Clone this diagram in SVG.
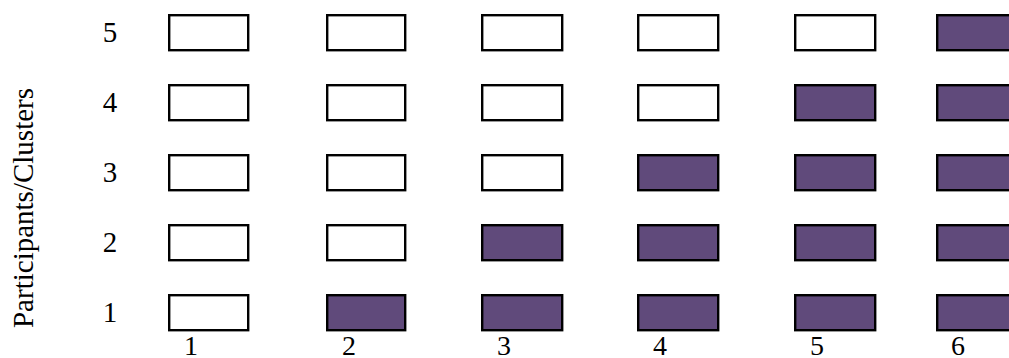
<svg xmlns="http://www.w3.org/2000/svg" width="1009" height="358" viewBox="0 0 1009 358">
<style>
text{font-family:"Liberation Serif","Times New Roman",serif;font-size:29px;fill:#000}
.lbl{text-anchor:middle}
.col{font-size:28px}
rect.c{stroke:#000;stroke-width:2.4;fill:#fff}
rect.f{fill:#604a7b}
</style>
<rect width="1009" height="358" fill="#fff"/>
<text class="lbl" transform="translate(33,208) rotate(-90)">Participants/Clusters</text>
<g id="row-labels">
<text class="lbl" x="110" y="42">5</text>
<text class="lbl" x="110" y="112">4</text>
<text class="lbl" x="110" y="182">3</text>
<text class="lbl" x="110" y="252">2</text>
<text class="lbl" x="110" y="322">1</text>
</g>
<g id="col-labels">
<text class="lbl col" x="191" y="355">1</text>
<text class="lbl col" x="349" y="355">2</text>
<text class="lbl col" x="504" y="355">3</text>
<text class="lbl col" x="660" y="355">4</text>
<text class="lbl col" x="817" y="355">5</text>
<text class="lbl col" x="958" y="355">6</text>
</g>
<g id="row5">
<rect class="c" x="169.2" y="15.2" width="79" height="35"/>
<rect class="c" x="327.2" y="15.2" width="78" height="35"/>
<rect class="c" x="482.2" y="15.2" width="80" height="35"/>
<rect class="c" x="638.2" y="15.2" width="80" height="35"/>
<rect class="c" x="795.2" y="15.2" width="80" height="35"/>
<rect class="c f" x="937.2" y="15.2" width="80" height="35"/>
</g>
<g id="row4">
<rect class="c" x="169.2" y="85.2" width="79" height="35"/>
<rect class="c" x="327.2" y="85.2" width="78" height="35"/>
<rect class="c" x="482.2" y="85.2" width="80" height="35"/>
<rect class="c" x="638.2" y="85.2" width="80" height="35"/>
<rect class="c f" x="795.2" y="85.2" width="80" height="35"/>
<rect class="c f" x="937.2" y="85.2" width="80" height="35"/>
</g>
<g id="row3">
<rect class="c" x="169.2" y="155.2" width="79" height="35"/>
<rect class="c" x="327.2" y="155.2" width="78" height="35"/>
<rect class="c" x="482.2" y="155.2" width="80" height="35"/>
<rect class="c f" x="638.2" y="155.2" width="80" height="35"/>
<rect class="c f" x="795.2" y="155.2" width="80" height="35"/>
<rect class="c f" x="937.2" y="155.2" width="80" height="35"/>
</g>
<g id="row2">
<rect class="c" x="169.2" y="225.2" width="79" height="35"/>
<rect class="c" x="327.2" y="225.2" width="78" height="35"/>
<rect class="c f" x="482.2" y="225.2" width="80" height="35"/>
<rect class="c f" x="638.2" y="225.2" width="80" height="35"/>
<rect class="c f" x="795.2" y="225.2" width="80" height="35"/>
<rect class="c f" x="937.2" y="225.2" width="80" height="35"/>
</g>
<g id="row1">
<rect class="c" x="169.2" y="295.2" width="79" height="35"/>
<rect class="c f" x="327.2" y="295.2" width="78" height="35"/>
<rect class="c f" x="482.2" y="295.2" width="80" height="35"/>
<rect class="c f" x="638.2" y="295.2" width="80" height="35"/>
<rect class="c f" x="795.2" y="295.2" width="80" height="35"/>
<rect class="c f" x="937.2" y="295.2" width="80" height="35"/>
</g>
<g id="connectors"></g>
</svg>
